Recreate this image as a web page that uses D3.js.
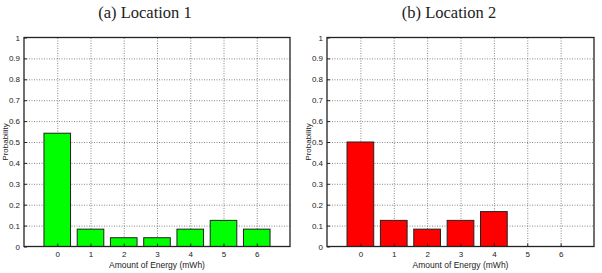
<!DOCTYPE html>
<html>
<head>
<meta charset="utf-8">
<script src="https://cdn.jsdelivr.net/npm/d3@7"></script>
<style>
  body { margin: 0; background: #fff; }
  .tick text { font-family: "Liberation Sans", Arial, sans-serif; font-size: 8px; fill: #222; }
  .gridlines line { stroke: #555; stroke-dasharray: 1,1.5; stroke-width: 0.7; }
  .gridlines path { display: none; }
</style>
</head>
<body>
<svg id="chart" width="602" height="273"></svg>
<script>
// energy levels (mWh) and probabilities per location
const energy = [0, 1, 2, 3, 4, 5, 6];
const loc1 = [0.542, 0.083, 0.042, 0.042, 0.083, 0.125, 0.083];
const loc2 = [0.5, 0.125, 0.083, 0.125, 0.167, 0, 0];
const yTicks = [0, 0.1, 0.2, 0.3, 0.4, 0.5, 0.6, 0.7, 0.8, 0.9, 1];
const titles = ["(a) Location 1", "(b) Location 2"];
const colors = ["#00ff00", "#ff0000"];

const svg = d3.select("#chart");

function drawPanel(x0, x1, values, title, color, titleX) {
    const top = 37.5, bottom = 246.5;
    const scaleX = d3.scaleLinear().domain([-1, 7]).range([x0, x1]);
    const scaleY = d3.scaleLinear().domain([0, 1]).range([bottom, top]);
    const g = svg.append("g");

    // gridlines
    g.append("g").attr("class", "gridlines")
        .attr("transform", `translate(${x0},0)`)
        .call(d3.axisLeft(scaleY).tickValues(yTicks.slice(1, -1)).tickSize(-(x1 - x0)).tickFormat(""));
    g.append("g").attr("class", "gridlines")
        .attr("transform", `translate(0,${bottom})`)
        .call(d3.axisBottom(scaleX).tickValues(energy).tickSize(-(bottom - top)).tickFormat(""));

    // bars
    const bw = (scaleX(1) - scaleX(0)) * 0.8;
    g.selectAll("rect.bar")
        .data(values.map((v, i) => ({e: energy[i], v: v})).filter(d => d.v > 0))
        .join("rect")
        .attr("class", "bar")
        .attr("x", d => scaleX(d.e) - bw / 2)
        .attr("y", d => scaleY(d.v))
        .attr("width", bw)
        .attr("height", d => scaleY(0) - scaleY(d.v))
        .attr("fill", color)
        .attr("stroke", "#222")
        .attr("stroke-width", 1);

    // axes
    const left = d3.axisLeft(scaleY).tickValues(yTicks).tickSize(-3).tickPadding(4).tickFormat(d3.format("~g"));
    g.append("g").attr("transform", `translate(${x0},0)`).call(left)
        .call(a => a.select(".domain").remove())
        .call(a => a.selectAll(".tick line").attr("stroke", "#222"));
    const bot = d3.axisBottom(scaleX).tickValues(energy).tickSize(-3).tickPadding(5);
    g.append("g").attr("transform", `translate(0,${bottom})`).call(bot)
        .call(a => a.select(".domain").remove())
        .call(a => a.selectAll(".tick line").attr("stroke", "#222"));

    // box
    g.append("rect").attr("x", x0).attr("y", top)
        .attr("width", x1 - x0).attr("height", bottom - top)
        .attr("fill", "none").attr("stroke", "#222").attr("stroke-width", 1.3);

    // labels
    g.append("text").attr("x", (x0 + x1) / 2).attr("y", 267.5)
        .attr("text-anchor", "middle")
        .style("font-family", "Liberation Sans, Arial, sans-serif").style("font-size", "8.5px").style("fill", "#222")
        .text("Amount of Energy (mWh)");
    g.append("text")
        .attr("transform", `translate(${x0 - 16},${(top + bottom) / 2}) rotate(-90)`)
        .attr("text-anchor", "middle")
        .style("font-family", "Liberation Sans, Arial, sans-serif").style("font-size", "8px").style("fill", "#222")
        .text("Probability");
    g.append("text").attr("x", titleX).attr("y", 18)
        .attr("text-anchor", "middle")
        .style("font-family", "Liberation Serif, serif").style("font-size", "16.5px").style("fill", "#222")
        .text(title);
}

drawPanel(24, 290, loc1, titles[0], colors[0], 145);
drawPanel(327, 594, loc2, titles[1], colors[1], 449);
</script>
</body>
</html>
